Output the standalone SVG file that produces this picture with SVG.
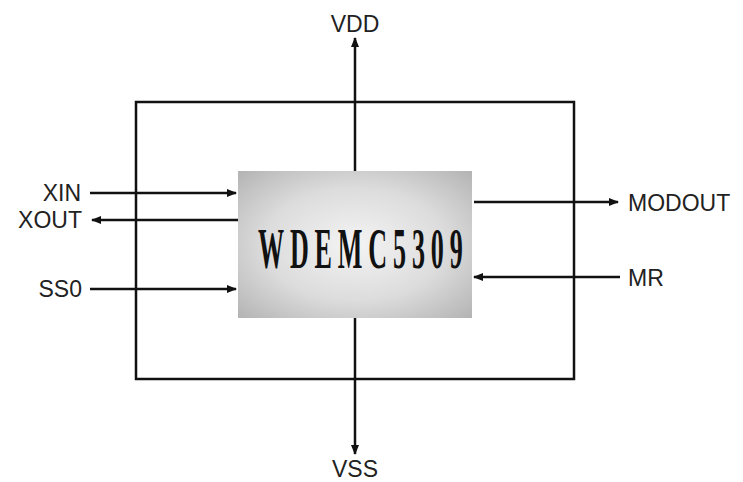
<svg xmlns="http://www.w3.org/2000/svg" width="743" height="482" viewBox="0 0 743 482">
<style>
.lbl{font-family:"Liberation Sans",Arial,sans-serif;font-size:23px;fill:#222}
.w{stroke:#111;stroke-width:2.5;fill:none}
.chiptxt{font-family:"Liberation Serif","Times New Roman",serif;font-weight:bold;font-size:58px;fill:#111}
</style>
<defs>
<marker id="ah" viewBox="0 0 10 8" refX="9" refY="4" markerWidth="10" markerHeight="8" markerUnits="userSpaceOnUse" orient="auto">
<path d="M0,0 L10,4 L0,8 Z" fill="#111"/>
</marker>
<radialGradient id="g" cx="0.5" cy="0.5" r="0.7">
<stop offset="0" stop-color="#f4f4f4"/>
<stop offset="0.55" stop-color="#dcdcdc"/>
<stop offset="1" stop-color="#b4b4b4"/>
</radialGradient>
</defs>
<rect width="743" height="482" fill="#fff"/>
<g id="frame"><rect x="136" y="102" width="438" height="277" class="w"/></g>
<g id="connectors">
<line x1="355" y1="171" x2="355" y2="38" class="w" marker-end="url(#ah)"/>
<line x1="355" y1="318" x2="355" y2="454" class="w" marker-end="url(#ah)"/>
<line x1="90" y1="193" x2="236" y2="193" class="w" marker-end="url(#ah)"/>
<line x1="238" y1="220" x2="92" y2="220" class="w" marker-end="url(#ah)"/>
<line x1="90" y1="289" x2="236" y2="289" class="w" marker-end="url(#ah)"/>
<line x1="474" y1="202" x2="618" y2="202" class="w" marker-end="url(#ah)"/>
<line x1="620" y1="277" x2="474" y2="277" class="w" marker-end="url(#ah)"/>
</g>
<g id="chip">
<rect x="238" y="171" width="234" height="147" fill="url(#g)"/>
<text class="chiptxt" transform="translate(258,268) scale(0.45,1)" textLength="455" lengthAdjust="spacing">WDEMC5309</text>
</g>
<g id="labels">
<text class="lbl" x="355" y="32" text-anchor="middle">VDD</text>
<text class="lbl" x="355" y="477" text-anchor="middle">VSS</text>
<text class="lbl" x="81" y="201" text-anchor="end">XIN</text>
<text class="lbl" x="82" y="228" text-anchor="end">XOUT</text>
<text class="lbl" x="82" y="297" text-anchor="end">SS0</text>
<text class="lbl" x="628" y="211">MODOUT</text>
<text class="lbl" x="628" y="286">MR</text>
</g>
</svg>
